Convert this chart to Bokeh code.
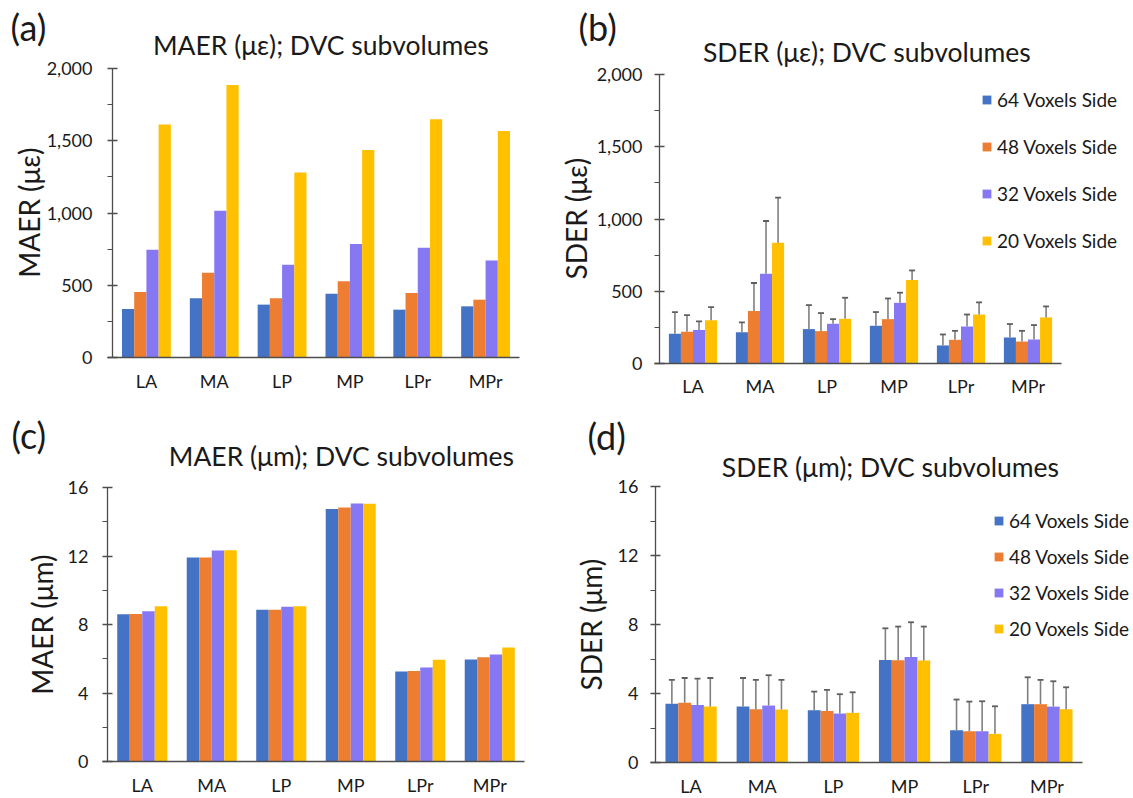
from bokeh.plotting import figure
from bokeh.models import (ColumnDataSource, Range1d, FixedTicker, LinearAxis,
                          NumeralTickFormatter, Label, Legend, LegendItem)
from bokeh.transform import dodge
from bokeh.layouts import column, row
from bokeh.embed import file_html
from bokeh.resources import INLINE

# ---------------- data ----------------
cats = ["LA", "MA", "LP", "MP", "LPr", "MPr"]
series = ["64 Voxels Side", "48 Voxels Side", "32 Voxels Side", "20 Voxels Side"]

# (a) MAER (micro-strain)
maer_ue_64 = [336, 410, 366, 442, 331, 354]
maer_ue_48 = [453, 587, 410, 527, 446, 400]
maer_ue_32 = [746, 1015, 642, 785, 760, 672]
maer_ue_20 = [1613, 1885, 1280, 1436, 1648, 1567]

# (b) SDER (micro-strain) and its error bars
sder_ue_64 = [206, 217, 238, 261, 125, 180]
sder_ue_48 = [219, 363, 224, 307, 164, 152]
sder_ue_32 = [231, 621, 275, 420, 256, 166]
sder_ue_20 = [300, 836, 309, 577, 339, 319]
sder_ue_64_err = [150, 67, 166, 95, 76, 93]
sder_ue_48_err = [116, 194, 125, 143, 62, 74]
sder_ue_32_err = [60, 365, 32, 70, 83, 100]
sder_ue_20_err = [90, 312, 146, 67, 84, 76]

# (c) MAER (micrometre)
maer_um_64 = [8.60, 11.91, 8.86, 14.75, 5.26, 5.96]
maer_um_48 = [8.62, 11.91, 8.86, 14.83, 5.29, 6.09]
maer_um_32 = [8.78, 12.32, 9.03, 15.07, 5.49, 6.25]
maer_um_20 = [9.07, 12.34, 9.07, 15.05, 5.94, 6.66]

# (d) SDER (micrometre) and its error bars
sder_um_64 = [3.40, 3.24, 3.03, 5.94, 1.87, 3.38]
sder_um_48 = [3.47, 3.09, 2.99, 5.93, 1.81, 3.38]
sder_um_32 = [3.34, 3.30, 2.84, 6.12, 1.81, 3.24]
sder_um_20 = [3.24, 3.07, 2.88, 5.91, 1.66, 3.09]
sder_um_64_err = [1.39, 1.66, 1.08, 1.84, 1.78, 1.56]
sder_um_48_err = [1.43, 1.70, 1.22, 1.95, 1.72, 1.41]
sder_um_32_err = [1.52, 1.76, 1.12, 2.01, 1.74, 1.47]
sder_um_20_err = [1.66, 1.72, 1.19, 1.97, 1.60, 1.27]

ue_ticks = [0, 500, 1000, 1500, 2000]
ue_minor = [250, 750, 1250, 1750]
um_ticks = [0, 4, 8, 12, 16]
um_minor = [2, 6, 10, 14]

# ---------------- style ----------------
FONT = "Lato"
TXT = "#1a1a1a"
AX = "#4d4d4d"
COLORS = ["#4472C4", "#ED7D31", "#8677F2", "#FFC000"]
OFFS = [-0.27, -0.09, 0.09, 0.27]
BW = 0.18


def make_panel(vals, errs, ymax, ticks, minor, fmt, ylabel, tick_standoff,
               ylabel_standoff, xlabel_standoff, title, title_xy, tag, tag_xy,
               size, area, legend_geom=None):
    W, H = size
    left, right, top, bottom = area          # plot area inside the figure, px
    n = len(cats)
    cw = (right - left) / n                   # px per category
    upp = ymax / (bottom - top)               # data units per px (y)
    xr = Range1d(-0.5 - left / cw, n - 0.5 + (W - right) / cw)
    yr = Range1d(-(H - bottom) * upp, ymax + top * upp)

    data = {"x": list(range(n)), "cat": cats}
    for i, v in enumerate(vals):
        data[f"v{i}"] = v
        if errs is not None:
            data[f"u{i}"] = [a + b for a, b in zip(v, errs[i])]
    src = ColumnDataSource(data)

    p = figure(x_range=xr, y_range=yr, frame_width=W, frame_height=H,
               min_border=0, x_axis_location=None, y_axis_location=None,
               output_backend="svg", toolbar_location=None, tools="")
    p.outline_line_color = None
    p.grid.visible = False
    p.background_fill_color = "white"
    p.border_fill_color = "white"

    renderers = []
    for i in range(4):
        r = p.vbar(x=dodge("x", OFFS[i]), top=f"v{i}", bottom=0,
                   width=BW, source=src, fill_color=COLORS[i], line_color=None)
        renderers.append(r)
    if errs is not None:
        for i in range(4):
            xs = dodge("x", OFFS[i])
            p.segment(x0=xs, y0=f"v{i}", x1=xs, y1=f"u{i}", source=src,
                      line_color="#808080", line_width=1.6)
            p.scatter(x=xs, y=f"u{i}", source=src, marker="dash", size=6,
                      line_color="#5f5f5f", line_width=1.8)

    # x axis (category names)
    xa = LinearAxis(fixed_location=0, bounds=(-0.5 - 5 / cw, n - 0.5),
                    ticker=FixedTicker(ticks=list(range(n)), minor_ticks=[]),
                    major_label_overrides={i: c for i, c in enumerate(cats)})
    xa.axis_line_color = AX
    xa.axis_line_width = 1.5
    xa.major_tick_line_color = None
    xa.minor_tick_line_color = None
    xa.major_tick_out = 0
    xa.major_tick_in = 0
    xa.major_label_standoff = xlabel_standoff
    xa.major_label_text_font = FONT
    xa.major_label_text_font_size = "18px"
    xa.major_label_text_color = TXT
    p.add_layout(xa, "below")

    # y axis
    ya = LinearAxis(fixed_location=-0.5, bounds=(0, ymax),
                    ticker=FixedTicker(ticks=ticks, minor_ticks=minor),
                    formatter=NumeralTickFormatter(format=fmt))
    ya.axis_line_color = AX
    ya.axis_line_width = 1.3
    ya.major_tick_line_color = AX
    ya.major_tick_line_width = 1.3
    ya.minor_tick_line_color = AX
    ya.minor_tick_line_width = 1.0
    ya.major_tick_in = 5
    ya.major_tick_out = 5
    ya.minor_tick_in = 0
    ya.minor_tick_out = 5
    ya.major_label_standoff = tick_standoff
    ya.major_label_text_font = FONT
    ya.major_label_text_font_size = "18px"
    ya.major_label_text_color = TXT
    ya.axis_label = ylabel
    ya.axis_label_text_font = FONT
    ya.axis_label_text_font_size = "28px"
    ya.axis_label_text_font_style = "normal"
    ya.axis_label_text_color = TXT
    ya.axis_label_standoff = ylabel_standoff
    p.add_layout(ya, "left")

    p.add_layout(Label(x=title_xy[0], y=H - title_xy[1], x_units="screen", y_units="screen",
                       text=title, text_font=FONT, text_font_size="26.5px",
                       text_color=TXT, text_align="center", text_baseline="middle"))
    p.add_layout(Label(x=tag_xy[0], y=H - tag_xy[1], x_units="screen", y_units="screen",
                       text=tag, text_font=FONT, text_font_size="36px",
                       text_color=TXT, text_align="left", text_baseline="middle"))

    if legend_geom is not None:
        lx, lbottom, sp = legend_geom
        items = [LegendItem(label=series[i], renderers=[renderers[i]]) for i in range(4)]
        leg = Legend(items=items, location=(lx, H - lbottom), orientation="vertical",
                     glyph_width=11, glyph_height=11, label_height=20,
                     label_standoff=5, spacing=sp, padding=0, margin=0,
                     border_line_color=None, background_fill_alpha=0,
                     label_text_font=FONT, label_text_font_size="19px",
                     label_text_color=TXT)
        p.add_layout(leg, "center")
    return p


# positions below are in px from each figure's top-left corner
pa = make_panel([maer_ue_64, maer_ue_48, maer_ue_32, maer_ue_20], None,
                2000, ue_ticks, ue_minor, "0,0", "MAER (με)", 15, -2, 12,
                "MAER (με); DVC subvolumes", (320, 44), "(a)", (10, 26),
                (556, 400), (112, 519, 68, 357))
pb = make_panel([sder_ue_64, sder_ue_48, sder_ue_32, sder_ue_20],
                [sder_ue_64_err, sder_ue_48_err, sder_ue_32_err, sder_ue_20_err],
                2000, ue_ticks, ue_minor, "0,0", "SDER (με)", 12, 1, 11,
                "SDER (με); DVC subvolumes", (310, 51), "(b)", (22, 26),
                (577, 400), (103, 505, 74, 363), legend_geom=(425, 252, 24))
pc = make_panel([maer_um_64, maer_um_48, maer_um_32, maer_um_20], None,
                16, um_ticks, um_minor, "0", "MAER (μm)", 14, 6, 12,
                "MAER (μm); DVC subvolumes", (341, 55), "(c)", (11, 34),
                (556, 398), (107, 524, 87, 361), )
pd_ = make_panel([sder_um_64, sder_um_48, sder_um_32, sder_um_20],
                 [sder_um_64_err, sder_um_48_err, sder_um_32_err, sder_um_20_err],
                 16, um_ticks, um_minor, "0", "SDER (μm)", 12, 7, 12,
                 "SDER (μm); DVC subvolumes", (334, 66), "(d)", (31, 35),
                 (577, 398), (99, 526, 86, 362), legend_geom=(437, 240, 13))

layout = column(row(pa, pb), row(pc, pd_))
open("out.html", "w").write(file_html(layout, INLINE))
